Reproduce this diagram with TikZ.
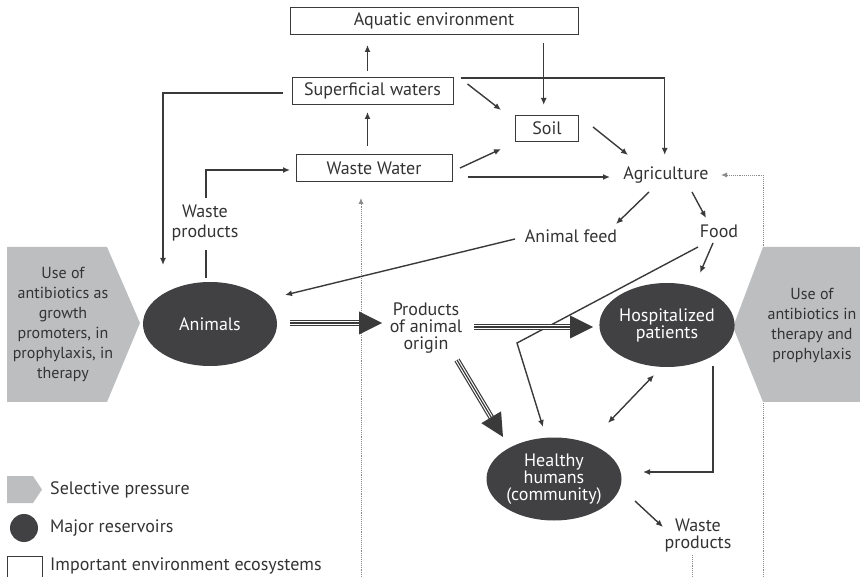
\documentclass[tikz,border=0pt]{standalone}
\usepackage{fontspec}
\setmainfont{PT Sans}
\usetikzlibrary{shapes.geometric,arrows.meta,calc}
\definecolor{lc}{HTML}{3A3A3A}
\definecolor{tc}{HTML}{333333}
\definecolor{resvc}{HTML}{414042}
\definecolor{pressc}{HTML}{BCBEC0}
\definecolor{dotc}{HTML}{8A8A8A}
\newcommand\tarr[2]{%
  \draw[line width=5.8pt,lc,shorten >=20pt] (#1) -- (#2);
  \draw[line width=3.4pt,white,shorten >=20pt] (#1) -- (#2);
  \draw[line width=1.2pt,lc,shorten >=20pt] (#1) -- (#2);
  \coordinate (tb) at ($(#2)!23pt!(#1)$);
  \fill[lc] (#2) -- ($(tb)!11.5pt!90:(#2)$) -- ($(tb)!11.5pt!-90:(#2)$) -- cycle;
}
\begin{document}
\begin{tikzpicture}[x=1pt,y=-1pt,
  every node/.style={font=\fontsize{18}{17}\selectfont, text=tc, align=center, inner sep=0pt},
  env/.style={draw=lc, line width=1pt, minimum height=26.5pt, inner sep=0pt},
  resv/.style={ellipse, fill=resvc, text=white, minimum width=134pt, minimum height=84pt, inner sep=0pt},
  arr/.style={draw=lc, line width=1.4pt, -{Latex[length=7pt,width=6pt]}},
  darr/.style={draw=lc, line width=1.4pt, {Latex[length=7pt,width=6pt]}-{Latex[length=7pt,width=6pt]}},
  ln/.style={draw=lc, line width=1.4pt},
  dotl/.style={draw=dotc, line width=0.9pt, densely dotted},
  dotarr/.style={dotl, -{Latex[length=6pt,width=5pt]}},
  pent/.style={fill=pressc},
  ptext/.style={font=\fontsize{16}{20}\selectfont}
]
\useasboundingbox (0,0) rectangle (860,577);

\coordinate (botL) at (361,577);
\coordinate (botR) at (763,577);
\coordinate (botW) at (692,577);

% boxes
\node[env, minimum width=288pt] (aqua) at (434,21) {Aquatic environment};
\node[env, minimum width=161pt] (sup) at (372.5,91) {Superficial waters};
\node[env, minimum width=63pt] (soil) at (547,128.5) {Soil};
\node[env, minimum width=156pt] (ww) at (374,168) {Waste Water};

% text nodes
\node (agri) at (666,175) {Agriculture};
\node (feed) at (571,236) {Animal feed};
\node (food) at (719,231) {Food};
\node (prod) at (426,328) {Products\\of animal\\origin};
\node[font=\fontsize{18}{20}\selectfont] (wpA) at (205,223) {Waste\\products};
\node (wpH) at (698,535) {Waste\\products};

% dotted connectors
\draw[dotarr] (botL) -- ($(ww)+(-13,30)$);
\draw[dotarr] (botR) |- ($(agri)+(55,0)$);
\draw[dotl] ($(wpH)+(-6,20)$) -- (botW);

% selective pressure shapes
\fill[pent] (7,247) -- (107,247) -- (140,323) -- (107,402) -- (7,402) -- cycle;
\fill[pent] (860,247) -- (763,247) -- (733,327) -- (763,402) -- (860,402) -- cycle;
\node[ptext] (useA) at (63,324) {Use of\\antibiotics as\\growth\\promoters, in\\prophylaxis, in\\therapy};
\node[ptext] (useH) at (812,325) {Use of\\antibiotics in\\therapy and\\prophylaxis};

% reservoirs
\node[resv] (animals) at (210,324) {Animals};
\node[resv] (hosp) at (667,325) {Hospitalized\\patients};
\node[resv, minimum width=135pt, minimum height=83pt] (healthy) at (554,479) {Healthy\\humans\\(community)};

% environment connectors
\draw[arr] ($(sup)+(-5,-20)$) -- ($(aqua)+(-66.5,24)$);
\draw[arr] ($(ww)+(-6.5,-22)$) -- ($(sup)+(-5,21)$);
\draw[arr] ($(aqua)+(109.7,22)$) -- ($(soil)+(-3.3,-23.5)$);
\draw[arr] ($(sup)+(95,-7)$) -- ($(soil)+(-46,-18.5)$);
\draw[arr] ($(sup)+(88,-13)$) -| ($(agri)+(-1.3,-20)$);
\draw[arr] ($(soil)+(46,-1.5)$) -- ($(agri)+(-38,-20)$);
\draw[arr] ($(ww)+(86,0)$) -- ($(soil)+(-46,20.5)$);
\draw[arr] ($(ww)+(93.5,9)$) -- ($(agri)+(-56,2)$);
\draw[arr] ($(sup)+(-89.5,2)$) -| ($(animals)+(-47,-59)$);
\draw[ln] ($(animals)+(-4,-46)$) -- ($(wpA)+(1,27)$);
\draw[arr] ($(wpA)+(1,-25)$) |- ($(ww)+(-84,2)$);
\draw[arr] ($(agri)+(-17,17)$) -- ($(feed)+(45,-12)$);
\draw[arr] ($(agri)+(26,17)$) -- ($(food)+(-13,-13)$);
\draw[arr] ($(feed)+(-56,3)$) -- ($(animals)+(75,-29)$);
\draw[arr] ($(food)+(-6,12)$) -- ($(hosp)+(33,-52)$);
\coordinate (bend) at (517,343);
\draw[arr] ($(food)+(-21,16)$) -- (bend) -- ($(healthy)+(-11,-52)$);

% product flows
\coordinate (t1s) at ($(animals)+(80,-1)$);
\coordinate (t1e) at ($(prod)+(-44,-5)$);
\tarr{t1s}{t1e}
\coordinate (t2s) at ($(prod)+(48,-1)$);
\coordinate (t2e) at ($(hosp)+(-74,2)$);
\tarr{t2s}{t2e}
\coordinate (t3s) at ($(prod)+(31,32)$);
\coordinate (t3e) at ($(healthy)+(-51,-42)$);
\tarr{t3s}{t3e}

% human connectors
\draw[darr] ($(hosp)+(-13,50)$) -- ($(healthy)+(54,-56)$);
\draw[arr] ($(hosp)+(46,41)$) |- ($(healthy)+(89,-7)$);
\draw[arr] ($(healthy)+(81,22)$) -- ($(wpH)+(-35,-8)$);

% legend
\fill[pent] (7,476) -- (33,476) -- (42,489.5) -- (33,503) -- (7,503) -- cycle;
\fill[resvc] (24,528) circle (14);
\draw[lc, line width=1pt] (7,577) |- (42,556) -- (42,577);
\node[anchor=west] (lg1) at (50,490) {Selective pressure};
\node[anchor=west] (lg2) at (50,528) {Major reservoirs};
\node[anchor=west] (lg3) at (50,566) {Important environment ecosystems};
\end{tikzpicture}
\end{document}
